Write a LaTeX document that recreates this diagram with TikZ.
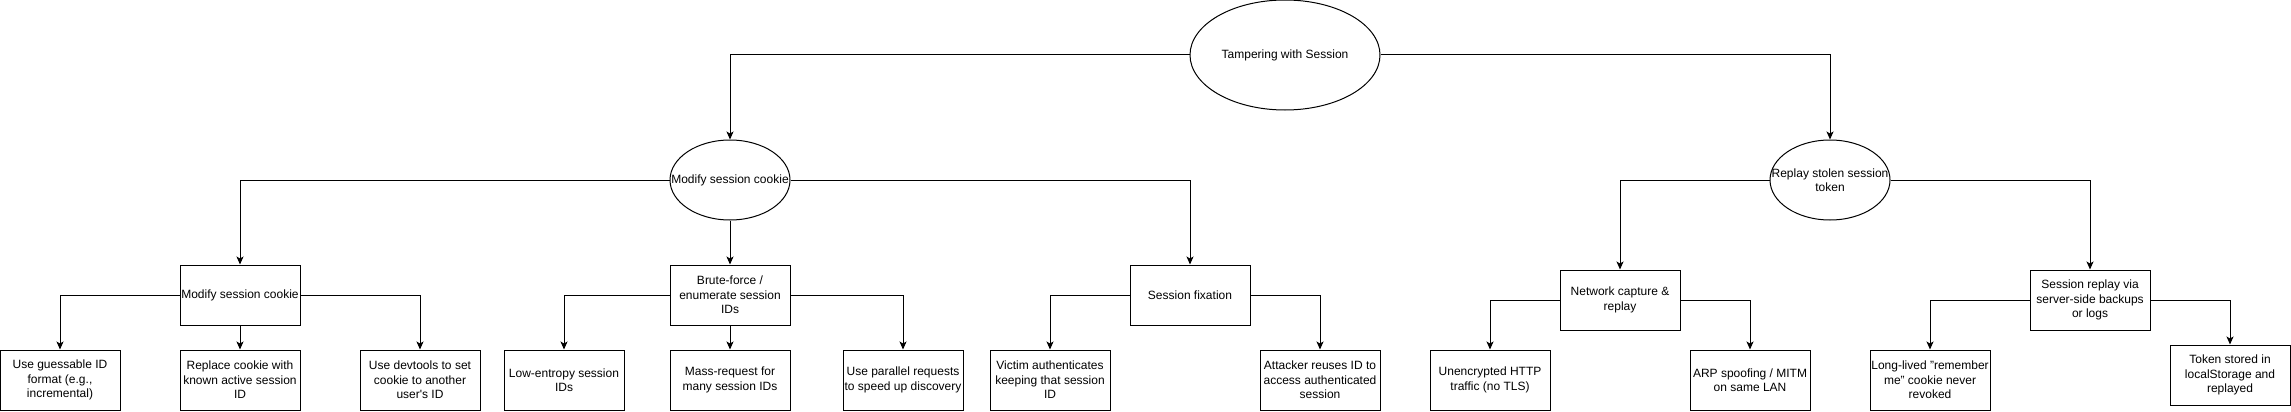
\documentclass[tikz,border=0pt]{standalone}
\usepackage{fontspec}
\setmainfont{Liberation Sans}
\usetikzlibrary{shapes.geometric, arrows.meta}
\tikzset{>={Stealth[length=8pt,width=7pt,inset=2pt]}}
\tikzset{
  goal/.style={draw, ellipse, line width=1pt, minimum width=120, minimum height=80, inner sep=0pt},
  stepbox/.style={draw, rectangle, line width=1pt, minimum width=120, minimum height=60, align=center, inner sep=1pt},
  link/.style={->, line width=1pt}
}

\begin{document}
\begin{tikzpicture}[x=1pt, y=-1pt, font=\fontsize{12}{14.5}\selectfont]
\useasboundingbox (0,0) rectangle (2291,412);
% goals
\node[goal, minimum width=190, minimum height=110, label={center:Tampering with Session}] (root) at (1285,55) {};
\node[goal, label={center:Modify session cookie}] (modify) at (730,180) {};
\node[goal, label={[align=center]center:Replay stolen session\\token}] (replay) at (1830,180) {};
% second level
\node[stepbox] (cookie) at (240,295) {Modify session cookie};
\node[stepbox] (brute) at (730,295) {Brute-force /\\enumerate session\\IDs};
\node[stepbox] (fixation) at (1190,295) {Session fixation};
\node[stepbox] (capture) at (1620,300) {Network capture \&\\replay};
\node[stepbox] (backup) at (2090,300) {Session replay via\\server-side backups\\or logs};
% leaves
\node[stepbox] (guess) at (60,380) {Use guessable ID\\format (e.g.,\\incremental)};
\node[stepbox] (known) at (240,380) {Replace cookie with\\known active session\\ID};
\node[stepbox] (devtools) at (420,380) {Use devtools to set\\cookie to another\\user\textquotesingle s ID};
\node[stepbox] (entropy) at (564,380) {Low-entropy session\\IDs};
\node[stepbox] (mass) at (730,380) {Mass-request for\\many session IDs};
\node[stepbox] (parallel) at (903,380) {Use parallel requests\\to speed up discovery};
\node[stepbox] (victim) at (1050,380) {Victim authenticates\\keeping that session\\ID};
\node[stepbox] (reuse) at (1320,380) {Attacker reuses ID to\\access authenticated\\session};
\node[stepbox] (http) at (1490,380) {Unencrypted HTTP\\traffic (no TLS)};
\node[stepbox] (arp) at (1750,380) {ARP spoofing / MITM\\on same LAN};
\node[stepbox] (remember) at (1930,380) {Long-lived "remember\\me" cookie never\\revoked};
\node[stepbox] (storage) at (2230,375) {Token stored in\\localStorage and\\replayed};
% connectors
\draw[link] (root.west) -| (modify.north);
\draw[link] (root.east) -| (replay.north);
\draw[link] (modify.west) -| (cookie.north);
\draw[link] (modify.south) -- (brute.north);
\draw[link] (modify.east) -| (fixation.north);
\draw[link] (replay.west) -| (capture.north);
\draw[link] (replay.east) -| (backup.north);
\draw[link] (cookie.west) -| (guess.north);
\draw[link] (cookie.south) -- (known.north);
\draw[link] (cookie.east) -| (devtools.north);
\draw[link] (brute.west) -| (entropy.north);
\draw[link] (brute.south) -- (mass.north);
\draw[link] (brute.east) -| (parallel.north);
\draw[link] (fixation.west) -| (victim.north);
\draw[link] (fixation.east) -| (reuse.north);
\draw[link] (capture.west) -| (http.north);
\draw[link] (capture.east) -| (arp.north);
\draw[link] (backup.west) -| (remember.north);
\draw[link] (backup.east) -| (storage.north);
\end{tikzpicture}
\end{document}
